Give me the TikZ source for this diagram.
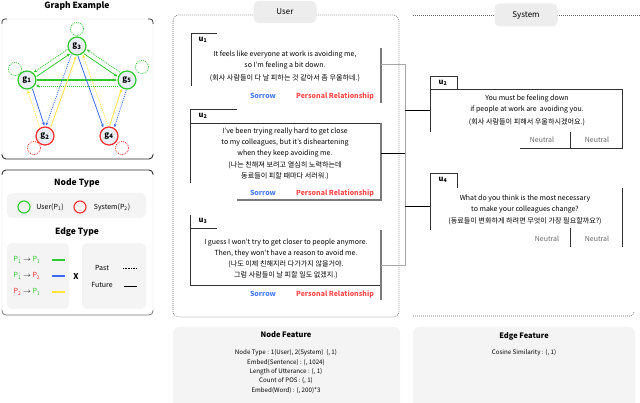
\documentclass[tikz,border=0pt]{standalone}
\usepackage{fontspec}
\setmainfont{Noto Sans CJK KR}
\usetikzlibrary{calc,arrows.meta}
\definecolor{gG}{HTML}{2DC92D}
\definecolor{gR}{HTML}{FF2B2B}
\definecolor{gB}{HTML}{3D6BF0}
\definecolor{gY}{HTML}{FFE23A}
\definecolor{nodeFill}{HTML}{E9EEF6}
\definecolor{boxFill}{HTML}{F4F4F4}
\definecolor{tabFill}{HTML}{EDEDED}
\definecolor{sorrowC}{HTML}{4A7CF8}
\definecolor{prC}{HTML}{FF4A4A}
\definecolor{frameC}{HTML}{333333}
\definecolor{frameG}{HTML}{7A7A7A}
\definecolor{neuC}{HTML}{666666}
\pgfdeclarelayer{bg}
\pgfsetlayers{bg,main}
\begin{document}
\begin{tikzpicture}[x=1pt,y=-1pt,
  gnode/.style={circle,draw,line width=1.2pt,fill=nodeFill,minimum size=18pt,inner sep=0pt,font=\fontsize{8}{8}\selectfont},
  ge/.style={line width=0.8pt,-{Stealth[length=3.5pt,width=3pt]},shorten <=10pt,shorten >=10pt},
  pastl/.style={dash pattern=on 1pt off 1pt},
  loopst/.style={line width=0.7pt,dash pattern=on 1pt off 1pt},
  title/.style={font=\fontsize{8.5}{10}\selectfont\bfseries},
  eng/.style={align=center,font=\fontsize{7}{11}\selectfont,inner sep=0pt},
  kor/.style={align=center,font=\fontsize{7.1}{11}\selectfont,inner sep=0pt},
  tagS/.style={font=\fontsize{7}{8}\selectfont\bfseries,text=sorrowC,inner sep=0pt},
  tagP/.style={font=\fontsize{7}{8}\selectfont\bfseries,text=prC,inner sep=0pt},
  neu/.style={font=\fontsize{7}{8}\selectfont,text=neuC,inner sep=0pt},
  ulab/.style={font=\fontsize{7.5}{8}\selectfont\bfseries,inner sep=0pt},
  fr/.style={frameC,line width=0.8pt},
  frg/.style={frameG,line width=1.1pt},
  hook/.style={draw=none,inner sep=0pt,minimum height=10pt},
  busg/.style={draw=gray!70,line width=1pt},
  busk/.style={draw=black,line width=0.8pt},
  dotf/.style={gray!80!black,line width=0.6pt,dash pattern=on 0.8pt off 1.2pt},
  tab/.style={fill=tabFill,rounded corners=5pt,minimum width=63pt,minimum height=22pt,inner sep=0pt,font=\fontsize{8}{9}\selectfont},
  feat/.style={align=center,font=\fontsize{6.2}{9.3}\selectfont,inner sep=0pt},
  leg/.style={font=\fontsize{7}{8}\selectfont,inner sep=0pt}
]
\useasboundingbox (0,0) rectangle (640,403);

% ---------- left panel ----------
\node[title] (gex) at (77,6) {Graph Example};
\draw[gray!30,line width=0.4pt,rounded corners=4pt] (2,19) rectangle (153,159);
\draw[frameC,line width=0.7pt,rounded corners=3pt] (2,24) -- (2,19) -- (7,19);
\draw[frameC,line width=0.7pt,rounded corners=3pt] (148,19) -- (153,19) -- (153,24);
\draw[frameC,line width=0.9pt,rounded corners=4pt] (2,154) -- (2,159) -- (153,159) -- (153,154);

\node[gnode,draw=gG] (g3) at (77,46) {$\mathbf{g}_{\mathbf{3}}$};
\node[gnode,draw=gG] (g1) at (27,80) {$\mathbf{g}_{\mathbf{1}}$};
\node[gnode,draw=gG] (g5) at (127,80) {$\mathbf{g}_{\mathbf{5}}$};
\node[gnode,draw=gR] (g2) at (45,136) {$\mathbf{g}_{\mathbf{2}}$};
\node[gnode,draw=gR] (g4) at (109,136) {$\mathbf{g}_{\mathbf{4}}$};

\begin{pgfonlayer}{bg}
\draw[loopst,gG] ($(g3)+(0,-17)$) circle (6.5pt);
\draw[loopst,gG] ($(g1)+(-12,-11)$) circle (6.5pt);
\draw[loopst,gG] ($(g5)+(15,-13)$) circle (6.5pt);
\draw[loopst,gR] ($(g2)+(-11,12)$) circle (6.5pt);
\draw[loopst,gR] ($(g4)+(13,12)$) circle (6.5pt);
\end{pgfonlayer}

% green edges
\draw[ge,gG] ($(g1)!2.5pt!-90:(g3)$) -- ($(g3)!2.5pt!90:(g1)$);
\draw[ge,gG,pastl] ($(g3)!2.5pt!-90:(g1)$) -- ($(g1)!2.5pt!90:(g3)$);
\draw[ge,gG] ($(g3)!2.5pt!-90:(g5)$) -- ($(g5)!2.5pt!90:(g3)$);
\draw[ge,gG,pastl] ($(g5)!2.5pt!-90:(g3)$) -- ($(g3)!2.5pt!90:(g5)$);
\draw[ge,gG,line width=1.3pt] ($(g1)+(0,0)$) -- ($(g5)+(0,0)$);
\draw[ge,gG,pastl,shorten <=9pt,shorten >=9pt] ($(g5)!6pt!90:(g1)$) -- ($(g1)!6pt!-90:(g5)$);
% blue / yellow edges
\draw[ge,gB] ($(g1)!2.5pt!90:(g2)$) -- ($(g2)!2.5pt!-90:(g1)$);
\draw[ge,gY,pastl] ($(g2)!2.5pt!90:(g1)$) -- ($(g1)!2.5pt!-90:(g2)$);
\draw[ge,gB,pastl] ($(g3)!2.5pt!-90:(g2)$) -- ($(g2)!2.5pt!90:(g3)$);
\draw[ge,gY] ($(g2)!2.5pt!-90:(g3)$) -- ($(g3)!2.5pt!90:(g2)$);
\draw[ge,gB] ($(g3)!2.5pt!-90:(g4)$) -- ($(g4)!2.5pt!90:(g3)$);
\draw[ge,gY,pastl] ($(g4)!2.5pt!-90:(g3)$) -- ($(g3)!2.5pt!90:(g4)$);
\draw[ge,gB,pastl] ($(g5)!2.5pt!90:(g4)$) -- ($(g4)!2.5pt!-90:(g5)$);
\draw[ge,gY] ($(g4)!2.5pt!90:(g5)$) -- ($(g5)!2.5pt!-90:(g4)$);

% legend panel
\draw[gray!30,line width=0.4pt,rounded corners=4pt] (2,170) rectangle (153,315);
\draw[frameC,line width=0.9pt,rounded corners=4pt] (2,175) -- (2,170) -- (153,170) -- (153,175);
\draw[gray,line width=0.8pt,rounded corners=4pt] (2,310) -- (2,315) -- (153,315) -- (153,310);

\node[title] (ntt) at (77,183) {Node Type};
\fill[boxFill,rounded corners=5pt] (7,193) rectangle (146,218);
\node[circle,draw=gG,line width=1.1pt,minimum size=12pt,inner sep=0pt] (lgu) at (24,207) {};
\node[leg] (lgut) at (50,207) {User(P\textsubscript{1})};
\node[circle,draw=gR,line width=1.1pt,minimum size=12pt,inner sep=0pt] (lgs) at (80,207) {};
\node[leg] (lgst) at (112,207) {System(P\textsubscript{2})};

\node[title] (ett) at (77,232) {Edge Type};
\fill[boxFill,rounded corners=5pt] (7,243) rectangle (69,309);
\fill[boxFill,rounded corners=5pt] (82,243) rectangle (146,309);
\node[leg] (e1) at (27,260) {\textcolor{gG}{P\textsubscript{1}} $\rightarrow$ \textcolor{gG}{P\textsubscript{1}}};
\node[leg] (e2) at (27,276) {\textcolor{gG}{P\textsubscript{1}} $\rightarrow$ \textcolor{gR}{P\textsubscript{2}}};
\node[leg] (e3) at (27,292) {\textcolor{gR}{P\textsubscript{2}} $\rightarrow$ \textcolor{gG}{P\textsubscript{1}}};
\coordinate (l1a) at (52,260); \coordinate (l1b) at (65,260);
\coordinate (l2a) at (52,276); \coordinate (l2b) at (65,276);
\coordinate (l3a) at (52,292); \coordinate (l3b) at (65,292);
\draw[gG,line width=1.4pt] (l1a) -- (l1b);
\draw[gB,line width=1.4pt] (l2a) -- (l2b);
\draw[gY,line width=1.4pt] (l3a) -- (l3b);
\node[font=\fontsize{8}{8}\selectfont\bfseries,inner sep=0pt] (xx) at (76,277) {X};
\node[leg] (past) at (102,268) {Past};
\node[leg] (fut) at (102,285) {Future};
\coordinate (pa) at (123,268); \coordinate (pb) at (137,268);
\coordinate (fa) at (124,286); \coordinate (fb) at (137,286);
\draw[black,line width=0.6pt,dash pattern=on 0.8pt off 0.8pt] (pa) -- (pb);
\draw[black,line width=0.8pt] (fa) -- (fb);

% ---------- user panel ----------
\draw[dotf,rounded corners=6pt] (173,15) rectangle (399,317);
\node[tab] (usertab) at (285,12) {User};

% u1
\draw[fr] (217,33) -- (191,33) -- (191,86);
\draw[frg] (381,48) -- (381,103);
\node[ulab] (u1l) at (203,40) {u\textsubscript{1}};
\node[eng] (u1e) at (285,60) {It feels like everyone at work is avoiding me,\\so I'm feeling a bit down.};
\node[kor] (u1k) at (285,78) {(회사 사람들이 다 날 피하는 것 같아서 좀 우울하네.)};
\node[tagS] (u1s) at (263,96) {Sorrow};
\node[tagP] (u1p) at (335,96) {Personal Relationship};
\node[hook,minimum width=190pt] (u1) at (286,65) {};

% u2
\draw[fr] (237,109) -- (190,109) -- (190,183);
\draw[fr] (190,123) -- (381,123);
\draw[frg] (381,123) -- (381,200) -- (237,200);
\node[ulab] (u2l) at (203,116) {u\textsubscript{2}};
\node[eng] (u2e) at (285,143) {I've been trying really hard to get close\\to my colleagues, but it's disheartening\\when they keep avoiding me.};
\node[kor] (u2k) at (285,170.5) {(나는 친해져 보려고 열심히 노력하는데\\동료들이 피할 때마다 서러워.)};
\node[tagS] (u2s) at (263,193) {Sorrow};
\node[tagP] (u2p) at (335,193) {Personal Relationship};
\node[hook,minimum width=190pt] (u2) at (286,153) {};

% u3
\draw[fr] (190,215) -- (190,285) -- (381,285);
\draw[fr] (190,228) -- (217,228);
\draw[frg] (381,230) -- (381,300);
\node[ulab] (u3l) at (203,221) {u\textsubscript{3}};
\node[eng,font=\fontsize{7}{10.5}\selectfont] (u3e) at (286,248) {I guess I won't try to get closer to people anymore.\\Then, they won't have a reason to avoid me.};
\node[kor] (u3k) at (286,269.5) {(나도 이제 친해지러 다가가지 않을거야.\\그럼 사람들이 날 피할 일도 없겠지.)};
\node[tagS] (u3s) at (263,294) {Sorrow};
\node[tagP] (u3p) at (335,294) {Personal Relationship};
\node[hook,minimum width=190pt] (u3) at (286,266) {};

% ---------- system panel ----------
\coordinate (st1) at (413,15); \coordinate (st2) at (640,15);
\coordinate (sb1) at (413,316); \coordinate (sb2) at (634,312);
\draw[dotf] (st1) -- (st2);
\draw[dotf,rounded corners=4pt] (sb1) -- (634,316) -- (sb2);
\node[tab,minimum height=23pt] (systab) at (526,15) {System};

% s2
\draw[fr] (430,132) -- (430,76) -- (457,76) -- (457,89);
\draw[fr] (430,89) -- (622,89) -- (622,148) -- (520,148);
\draw[fr] (570,132) -- (570,148);
\node[ulab] (s2l) at (443,83) {u\textsubscript{2}};
\node[eng] (s2e) at (527,104.5) {You must be feeling down\\if people at work are\ \ avoiding you.};
\node[kor] (s2k) at (527,122) {(회사 사람들이 피해서 우울하시겠어요.)};
\node[neu] (s2n1) at (542,140) {Neutral};
\node[neu] (s2n2) at (597,140) {Neutral};
\node[hook,minimum width=192pt] (s2) at (526,110) {};

% s4
\draw[fr] (430,230) -- (430,173) -- (457,173) -- (457,188);
\draw[fr] (622,188) -- (622,247);
\draw[fr] (570,228) -- (570,247);
\node[ulab] (s4l) at (443,180) {u\textsubscript{4}};
\node[eng] (s4e) at (525,204) {What do you think is the most necessary\\to make your colleagues change?};
\node[kor] (s4k) at (525,221) {(동료들이 변화하게 하려면 무엇이 가장 필요할까요?)};
\node[neu] (s4n1) at (547,239) {Neutral};
\node[neu] (s4n2) at (597,239) {Neutral};
\node[hook,minimum width=192pt] (s4) at (526,206) {};

% connectors
\coordinate (bus) at (405,0);
\draw[busg] (u1.east) -- (u1.east -| bus) -- (u3.east -| bus) -- (u3.east);
\draw[busk] (u2.east) -- (u2.east -| bus);
\draw[busk] (s2.west -| bus) -- (s2.west);
\draw[busk] (s4.west -| bus) -- (s4.west);

% ---------- feature boxes ----------
\fill[boxFill,rounded corners=6pt] (173,327) rectangle (400,412);
\node[font=\fontsize{7.5}{9}\selectfont\bfseries,inner sep=0pt] (nft) at (286,335) {Node Feature};
\node[feat] (nfl) at (286,371.5) {Node Type : 1(User), 2(System)\ \ (, 1)\\Embed(Sentence) : (, 1024)\\Length of Utterance : (, 1)\\Count of POS : (, 1)\\Embed(Word) : (, 200)*3};
\fill[boxFill,rounded corners=6pt] (413,327) rectangle (635,412);
\node[font=\fontsize{7.5}{9}\selectfont\bfseries,inner sep=0pt] (eft) at (524,336) {Edge Feature};
\node[feat] (efl) at (524,353) {Cosine Similarity : (, 1)};
\end{tikzpicture}
\end{document}
